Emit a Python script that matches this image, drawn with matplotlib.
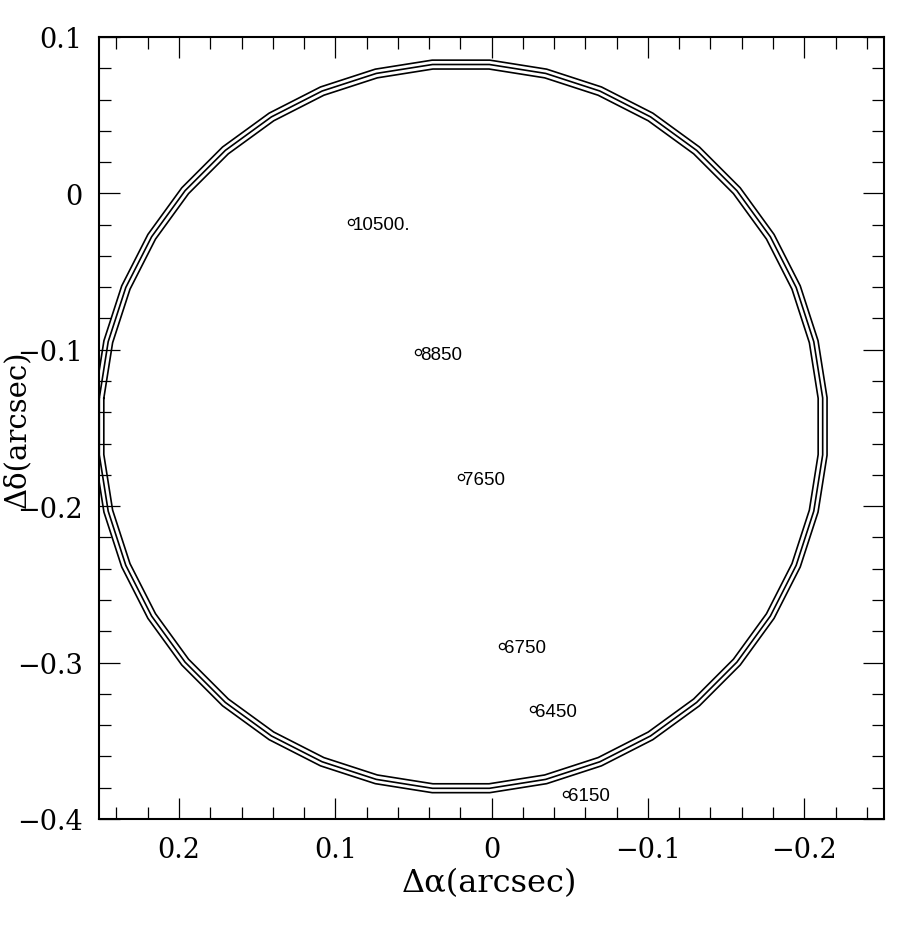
import numpy as np
import matplotlib
matplotlib.use("Agg")
import matplotlib.pyplot as plt
from matplotlib.ticker import MultipleLocator

# data
wavelengths = ['10500.', '8850', '7650', '6750', '6450', '6150']
d_alpha = [0.0902, 0.0470, 0.0198, -0.0064, -0.0262, -0.0475]
d_delta = [-0.0185, -0.1016, -0.1815, -0.2892, -0.3297, -0.3840]

circle_center = (0.0196, -0.1490)
circle_radii = [0.2292, 0.2321, 0.2349]
n_sides = 40

fig = plt.figure(figsize=(9.0, 9.28), dpi=100)
ax = fig.add_axes([0.1103, 0.1164, 0.8719, 0.8427])

# polygonal circles
theta = (np.arange(n_sides + 1) + 0.5) * 2 * np.pi / n_sides
for r in circle_radii:
    ax.plot(circle_center[0] + r * np.cos(theta),
            circle_center[1] + r * np.sin(theta),
            color='black', lw=1.2, solid_joinstyle='miter')

# points with labels
ax.plot(d_alpha, d_delta, 'o', ms=4.5, mfc='none', mec='black', mew=0.9, ls='none')
for xa, yd, lab in zip(d_alpha, d_delta, wavelengths):
    ax.annotate(lab, (xa, yd), xytext=(2, -2), textcoords='offset pixels',
                ha='left', va='center', fontsize=13.5, family='Liberation Sans')

ax.set_xlim(0.251, -0.251)
ax.set_ylim(-0.4, 0.1)

ax.xaxis.set_major_locator(MultipleLocator(0.1))
ax.xaxis.set_minor_locator(MultipleLocator(0.02))
ax.yaxis.set_major_locator(MultipleLocator(0.1))
ax.yaxis.set_minor_locator(MultipleLocator(0.02))

fmt = plt.FuncFormatter(lambda v, p: ('0' if abs(v) < 1e-9 else ('\u2212%g' % abs(v) if v < 0 else '%g' % v)))
ax.xaxis.set_major_formatter(fmt)
ax.yaxis.set_major_formatter(fmt)

ax.tick_params(which='both', direction='in', top=True, right=True, width=0.9)
ax.tick_params(which='major', length=15, pad=12, labelsize=19.5)
ax.tick_params(which='minor', length=8.5)
for lab in ax.get_xticklabels() + ax.get_yticklabels():
    lab.set_family('DejaVu Serif')
for s in ax.spines.values():
    s.set_linewidth(1.5)

ax.set_xlabel('\u0394\u03b1(arcsec)', fontsize=23, family='DejaVu Serif')
ax.set_ylabel('\u0394\u03b4(arcsec)', fontsize=21, family='DejaVu Serif')
ax.xaxis.set_label_coords(0.497, -0.062)
ax.yaxis.set_label_coords(-0.087, 0.5)

fig.savefig('out.png', dpi=100)
